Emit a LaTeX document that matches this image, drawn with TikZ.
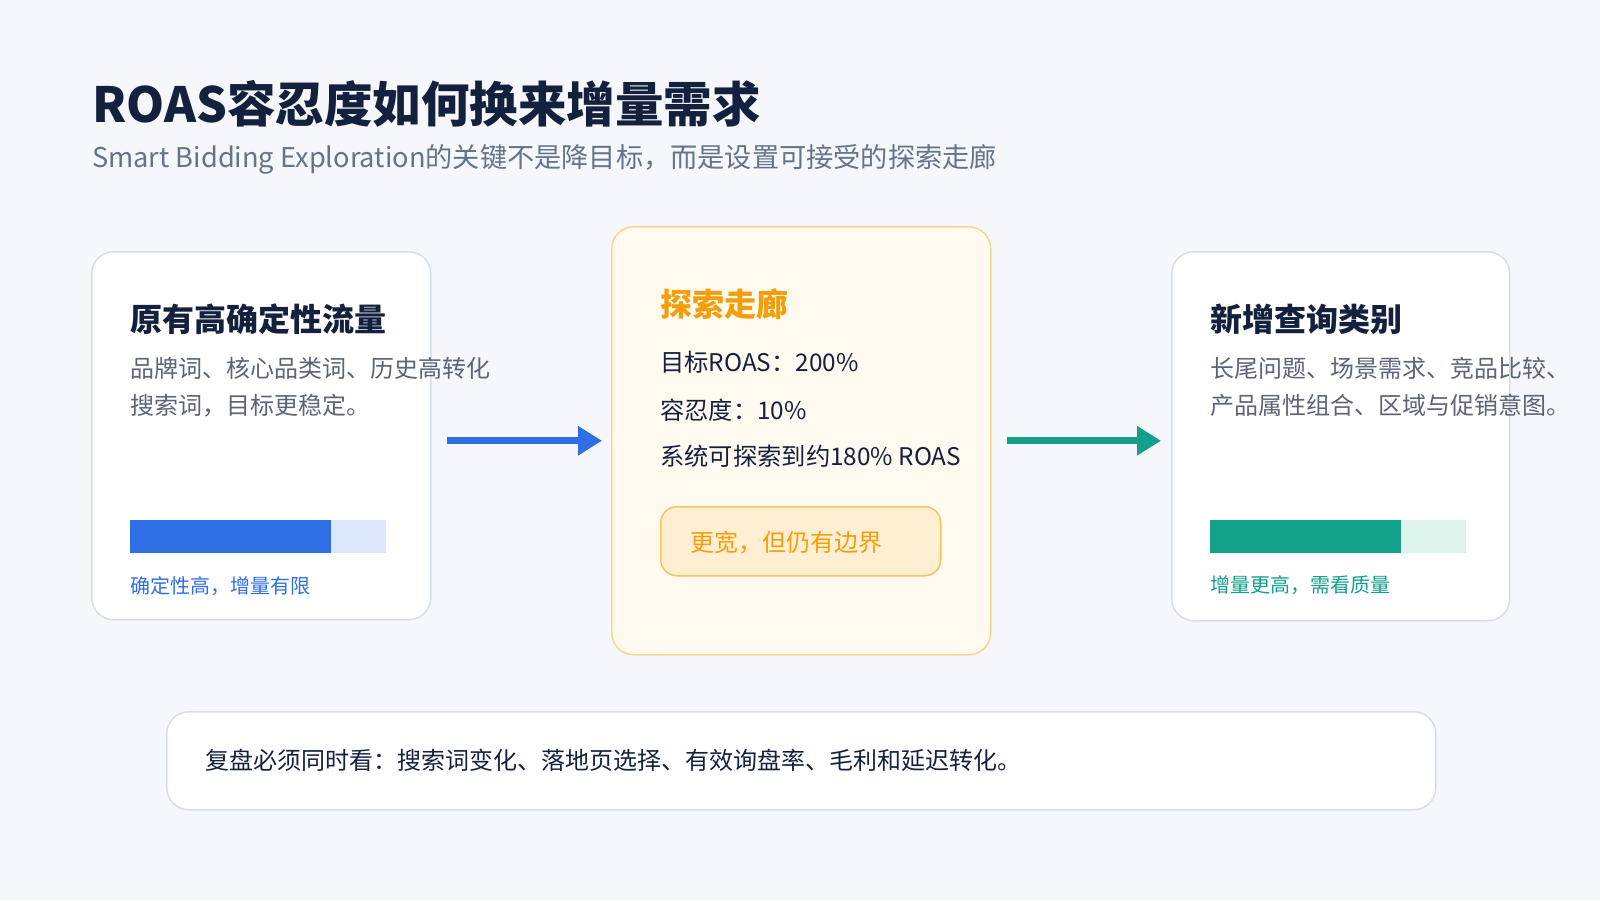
\documentclass[tikz,border=0pt]{standalone}
\usepackage{fontspec}
\setmainfont{Noto Sans CJK SC}
\usepackage{xcolor}
\usepackage{tikz}
\usetikzlibrary{arrows.meta}

\definecolor{pagebg}{HTML}{F5F7FA}
\definecolor{ink}{HTML}{13213F}
\definecolor{subgray}{HTML}{64748B}
\definecolor{bodygray}{HTML}{5B6577}
\definecolor{cardline}{HTML}{D8DEE9}
\definecolor{blueacc}{HTML}{2F6FE6}
\definecolor{bluelight}{HTML}{DCE7FB}
\definecolor{tealacc}{HTML}{12A08A}
\definecolor{teallight}{HTML}{DDF4EC}
\definecolor{orangeacc}{HTML}{F59E0B}
\definecolor{corrfill}{HTML}{FFFAEF}
\definecolor{corrline}{HTML}{F8D690}
\definecolor{tagfill}{HTML}{FEEFD3}
\definecolor{tagline}{HTML}{F6C35F}

\begin{document}
\begin{tikzpicture}[x=1pt, y=-1pt, >=Stealth,
    card/.style={draw=cardline, line width=1.5pt, fill=white, rounded corners=22pt,
        anchor=north west, inner sep=0pt},
    txt/.style={anchor=base west, inner sep=0pt},
    headline/.style={txt, text=ink, font=\fontsize{32}{38}\selectfont\bfseries},
    bodytext/.style={txt, text=bodygray, align=left, font=\fontsize{24}{37}\selectfont},
    flow/.style={->, line width=7pt, >={Triangle[length=24pt, width=28pt]}}]

    % ==========================================
    % Page and title
    % ==========================================
    \fill[pagebg] (0,0) rectangle (1600,900);
    \useasboundingbox (0,0) rectangle (1600,900);

    \node[txt, text=ink, font=\fontsize{48.5}{56}\selectfont\bfseries] (title) at (92,122)
        {ROAS容忍度如何换来增量需求};
    \node[txt, text=subgray, font=\fontsize{27.2}{32}\selectfont] (subtitle) at (92,167)
        {Smart Bidding Exploration的关键不是降目标，而是设置可接受的探索走廊};

    % ==========================================
    % Left card
    % ==========================================
    \node[card, minimum width=339pt, minimum height=368pt] (oldcard) at (91,251) {};
    \node[headline] (oldhead) at (130,331) {原有高确定性流量};
    % base of a two-line node is the last line
    \node[bodytext] (olddesc) at (130,414) {品牌词、核心品类词、历史高转化\\搜索词，目标更稳定。};

    % bar
    \fill[bluelight] (130,520) rectangle (386,553);
    \fill[blueacc] (130,520) rectangle (331,553);
    \node[txt, text=blueacc, font=\fontsize{20}{24}\selectfont] (oldnote) at (130,593)
        {确定性高，增量有限};

    % ==========================================
    % Center card (corridor)
    % ==========================================
    \node[card, draw=corrline, fill=corrfill, minimum width=379pt, minimum height=428pt]
        (corridor) at (611,226) {};
    \node[headline, text=orangeacc] (corrhead) at (660,316) {探索走廊};
    \node[txt, text=ink, font=\fontsize{24.3}{30}\selectfont] (target) at (660,371) {目标ROAS：200\%};
    \node[txt, text=ink, font=\fontsize{24.3}{30}\selectfont] (tolerance) at (660,419) {容忍度：10\%};
    \node[txt, text=ink, font=\fontsize{24.3}{30}\selectfont] (reach) at (660,465) {系统可探索到约180\% ROAS};

    % tag
    \node[draw=tagline, fill=tagfill, line width=1.5pt, rounded corners=16pt, anchor=north west,
        minimum width=280pt, minimum height=69pt] (tag) at (660,506) {};
    \node[txt, text=orangeacc, font=\fontsize{24}{30}\selectfont] (tagtext) at (690,551)
        {更宽，但仍有边界};

    % ==========================================
    % Right card
    % ==========================================
    \node[card, minimum width=338pt, minimum height=369pt] (newcard) at (1171,251) {};
    \node[headline] (newhead) at (1210,331) {新增查询类别};
    \node[bodytext] (newdesc) at (1210,414) {长尾问题、场景需求、竞品比较、\\产品属性组合、区域与促销意图。};

    % bar
    \fill[teallight] (1210,520) rectangle (1466,553);
    \fill[tealacc] (1210,520) rectangle (1401,553);
    \node[txt, text=tealacc, font=\fontsize{20}{24}\selectfont] (newnote) at (1210,592)
        {增量更高，需看质量};

    % ==========================================
    % Arrows
    % ==========================================
    \draw[flow, blueacc, shorten <=15pt, shorten >=9pt] (oldcard.east |- corridor.west) -- (corridor.west);
    \draw[flow, tealacc, shorten <=15pt, shorten >=10pt] (corridor.east) -- (newcard.west |- corridor.east);

    % ==========================================
    % Bottom review box
    % ==========================================
    \node[card, minimum width=1269pt, minimum height=98pt] (review) at (166,711) {};
    \node[txt, text=ink, font=\fontsize{24}{28}\selectfont] (reviewtext) at (205,769)
        {复盘必须同时看：搜索词变化、落地页选择、有效询盘率、毛利和延迟转化。};

\end{tikzpicture}
\end{document}
